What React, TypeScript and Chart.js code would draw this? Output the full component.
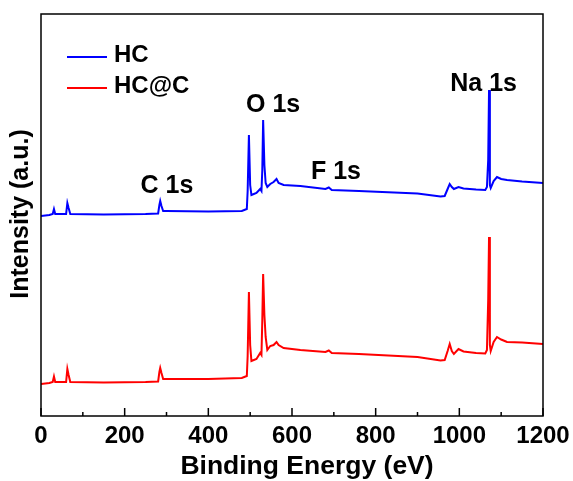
import React, { useEffect, useRef } from "react";
import { Chart, registerables } from "chart.js";

Chart.register(...registerables);

// Binding energy grid (eV)
const energy = [
  0, 20, 28, 31, 34, 60, 63, 66, 70, 150, 250, 280, 283, 285, 288, 292, 300, 400, 480, 492,
  494, 497, 500, 503, 515, 524, 527, 529, 531, 534, 537, 541, 548, 556, 563, 568, 580, 620,
  680, 688, 695, 760, 900, 955, 965, 972, 977, 982, 987, 998, 1010, 1040, 1062, 1066, 1069,
  1071, 1073, 1075, 1082, 1090, 1100, 1114, 1150, 1200,
];

// HC intensity (a.u.)
const hcIntensity = [
  200, 201, 202, 207, 202, 202, 213, 208, 202, 201.5, 202, 202.5, 211, 215, 210, 205, 205, 204.5, 205, 207,
  225, 281, 231, 221, 223, 227, 225, 246, 296, 251, 233, 229, 232, 234, 237, 233, 231, 230,
  227, 228.5, 226, 225, 222.5, 219.5, 220, 227, 232, 229, 227, 229, 227.5, 226.5, 226, 229, 256,
  326, 231, 228, 235, 239, 237, 236, 234.5, 233,
];

// HC@C intensity (a.u.)
const hccIntensity = [
  32, 33, 34, 39.5, 34, 34, 47, 41, 34, 33.5, 34, 34.5, 44, 48, 43, 37, 37, 37, 38, 40,
  60, 124, 71, 55, 57, 63, 61, 96, 142, 101, 79, 66, 70, 71, 74, 71, 68, 66,
  64, 65.5, 63, 62, 59, 55.5, 56, 65, 72, 65, 62, 67, 64.5, 63, 62.5, 66, 116,
  179, 71, 65, 74, 79, 76.5, 74, 73.5, 72,
];

const seriesNames = ["HC", "HC@C"];
const seriesColors = ["#0000ff", "#ff0000"];

// Peak labels: [text, energy (eV), intensity (a.u.)]
const peakLabels: [string, number, number][] = [
  ["C 1s", 301, 230],
  ["O 1s", 555, 311],
  ["F 1s", 705, 244],
  ["Na 1s", 1058, 332],
];

const xTitle = "Binding Energy (eV)";
const yTitle = "Intensity (a.u.)";

const FONT = '"Liberation Sans", Arial, sans-serif';

const decorPlugin = {
  id: "decor",
  afterDraw(chart: any) {
    const { ctx, chartArea, scales } = chart;
    const xs = scales.x;
    const ys = scales.y;
    ctx.save();
    // frame
    ctx.strokeStyle = "#000";
    ctx.lineWidth = 1.5;
    ctx.strokeRect(chartArea.left, chartArea.top, chartArea.right - chartArea.left, chartArea.bottom - chartArea.top);
    // inward ticks on bottom axis
    const ticks = xs.ticks.map((t: any) => t.value);
    ctx.beginPath();
    ticks.forEach((v: number, i: number) => {
      const px = xs.getPixelForValue(v);
      ctx.moveTo(px, chartArea.bottom);
      ctx.lineTo(px, chartArea.bottom - 8);
      if (i < ticks.length - 1) {
        const mx = xs.getPixelForValue((v + ticks[i + 1]) / 2);
        ctx.moveTo(mx, chartArea.bottom);
        ctx.lineTo(mx, chartArea.bottom - 4);
      }
    });
    ctx.stroke();

    ctx.fillStyle = "#000";
    ctx.textAlign = "center";
    ctx.textBaseline = "middle";
    // axis titles
    ctx.font = `bold 26.5px ${FONT}`;
    ctx.fillText(xTitle, 307, 467);
    ctx.font = `bold 25px ${FONT}`;
    ctx.save();
    ctx.translate(21, 214);
    ctx.rotate(-Math.PI / 2);
    ctx.fillText(yTitle, 0, 0);
    ctx.restore();

    // peak labels
    ctx.font = `bold 25px ${FONT}`;
    peakLabels.forEach(([t, e, v]) => {
      ctx.fillText(t, xs.getPixelForValue(e), ys.getPixelForValue(v));
    });

    // legend
    ctx.font = `bold 24px ${FONT}`;
    ctx.textAlign = "left";
    chart.data.datasets.forEach((ds: any, i: number) => {
      const ly = 57 + i * 31;
      ctx.strokeStyle = ds.borderColor;
      ctx.lineWidth = 2;
      ctx.beginPath();
      ctx.moveTo(67, ly);
      ctx.lineTo(107, ly);
      ctx.stroke();
      ctx.fillText(ds.label, 114, ly - 2);
    });
    ctx.restore();
  },
};

export default function App() {
  const ref = useRef<HTMLCanvasElement>(null);
  useEffect(() => {
    if (!ref.current) return;
    const mk = (vals: number[]) => energy.map((e, i) => ({ x: e, y: vals[i] }));
    const chart = new Chart(ref.current, {
      type: "line",
      data: {
        datasets: [
          {
            label: seriesNames[0],
            data: mk(hcIntensity),
            borderColor: seriesColors[0],
            borderWidth: 2,
            pointRadius: 0,
            tension: 0,
            fill: false,
          },
          {
            label: seriesNames[1],
            data: mk(hccIntensity),
            borderColor: seriesColors[1],
            borderWidth: 2,
            pointRadius: 0,
            tension: 0,
            fill: false,
          },
        ],
      },
      options: {
        animation: false,
        responsive: false,
        layout: { padding: { left: 41, right: 30, top: 14, bottom: 0 } },
        plugins: { legend: { display: false }, tooltip: { enabled: false } },
        scales: {
          x: {
            type: "linear",
            min: 0,
            max: 1200,
            ticks: {
              stepSize: 200,
              padding: 6,
              color: "#000",
              font: { family: FONT, size: 24, weight: "bold" },
              maxRotation: 0,
              callback: (v: any) => String(v),
            },
            grid: { display: false, drawTicks: false },
            border: { display: false },
            afterFit: (s: any) => {
              s.height = 65;
              s.paddingLeft = 0;
              s.paddingRight = 0;
            },
          },
          y: {
            display: false,
            min: 0,
            max: 402,
          },
        },
      },
      plugins: [decorPlugin],
    });
    return () => chart.destroy();
  }, []);
  return (
    <div style={{ position: "fixed", left: 0, top: 0, width: 573, height: 481, background: "#fff" }}>
      <canvas ref={ref} width={573} height={481} style={{ width: 573, height: 481 }} />
    </div>
  );
}
